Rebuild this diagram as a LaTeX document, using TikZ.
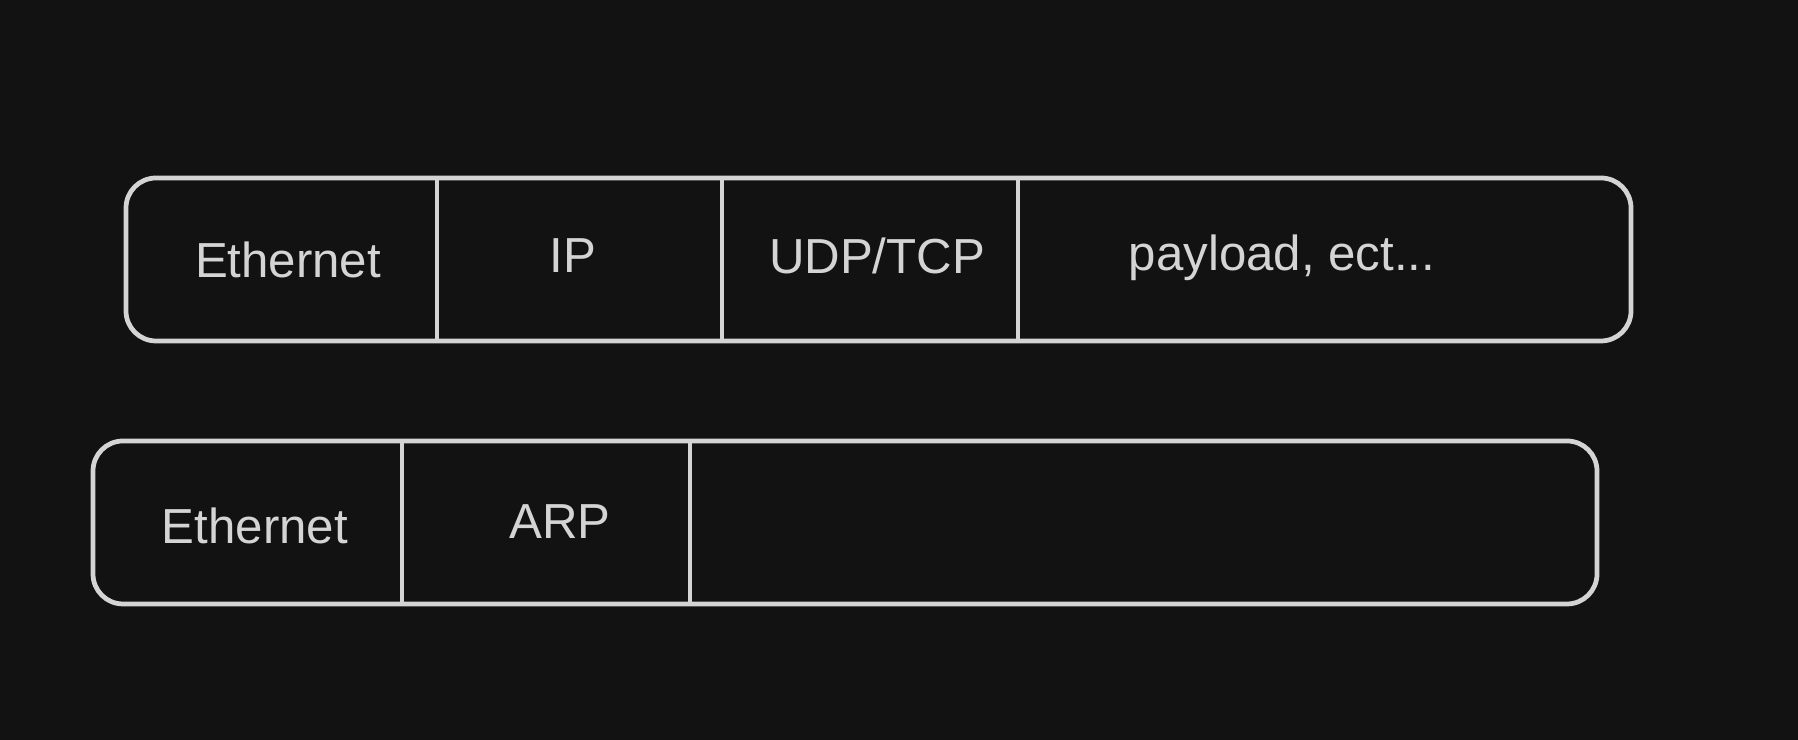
\documentclass[tikz,border=0pt]{standalone}
\usepackage{fontspec}
\setmainfont{Liberation Sans}
\usetikzlibrary{arrows,calc}
\usepackage{tkz-euclide}
\definecolor{BgClr}{HTML}{121212}
\definecolor{LineClr}{HTML}{D4D4D4}

\begin{document}
\begin{tikzpicture}[font=\fontsize{14}{16}\selectfont,
  frame/.style={draw=LineClr,line width=1.35pt,rounded corners=0.3cm},
  field/.style={text=LineClr,inner sep=0pt}]

\fill[BgClr] (0,0) rectangle (17.98,7.40);
\useasboundingbox (0,0) rectangle (17.98,7.40);

\tkzSetUpLine[line width=1.2pt,color=LineClr]

% IP frame
\tkzDefPoints{1.26/5.62/A,16.31/3.99/C}
\tkzDefPoints{4.37/5.62/P1,4.37/3.99/Q1,7.22/5.62/P2,7.22/3.99/Q2,10.18/5.62/P3,10.18/3.99/Q3}

% ARP frame
\tkzDefPoints{0.93/2.99/E,15.97/1.36/G}
\tkzDefPoints{4.02/2.99/R1,4.02/1.36/S1,6.90/2.99/R2,6.90/1.36/S2}

\draw[frame] (A) rectangle (C);
\draw[frame] (E) rectangle (G);

\tkzDrawSegments(P1,Q1 P2,Q2 P3,Q3)
\tkzDrawSegments(R1,S1 R2,S2)

\node[field] (ethA) at (2.88,4.80) {Ethernet};
\node[field] (ip) at (5.73,4.84) {IP};
\node[field] (udp) at (8.77,4.84) {UDP/TCP};
\node[field] (load) at (12.82,4.82) {payload, ect...};

\node[field] (ethB) at (2.55,2.14) {Ethernet};
\node[field] (arp) at (5.60,2.18) {ARP};

\end{tikzpicture}
\end{document}
